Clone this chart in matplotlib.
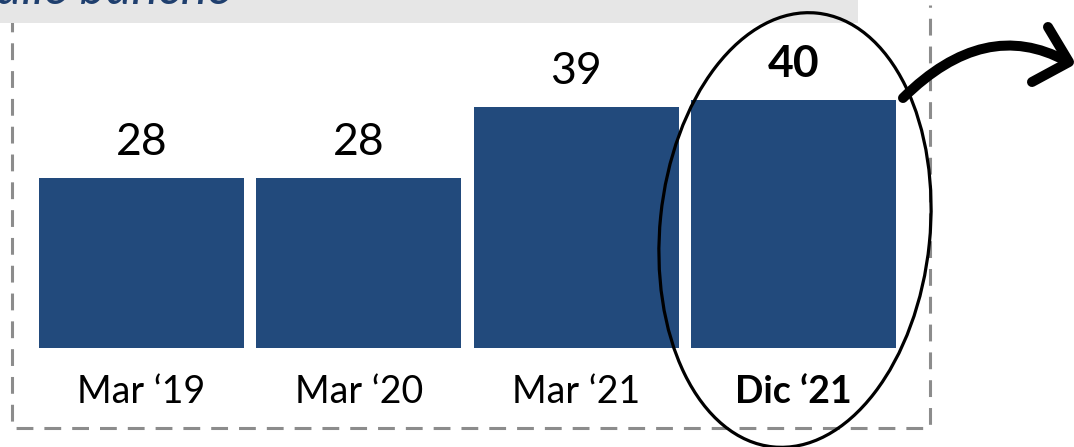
import matplotlib.pyplot as plt
from matplotlib.patches import Ellipse, Rectangle, PathPatch
from matplotlib.path import Path

# data
categories = ["Mar \u201819", "Mar \u201820", "Mar \u201821", "Dic \u201821"]
values = [27.7, 27.7, 39.3, 40.4]
highlight = [False, False, False, True]
header_text = "alle banche"

W, H = 1074, 447
bar_color = "#224A7C"
font = "Lato"

fig = plt.figure(figsize=(W / 100, H / 100), dpi=100)

ax = fig.add_axes([0.0305, 0.2215, 0.8095, 0.6868])
x = list(range(len(values)))
ax.bar(x, values, width=0.943, color=bar_color)
ax.set_xlim(-0.5, 3.5)
ax.set_ylim(0, 50)
ax.axis("off")

for i, v in enumerate(values):
    w = "bold" if highlight[i] else "normal"
    ax.annotate(f"{round(v):d}", (i, v), xytext=(0, 16.5), textcoords="offset points",
                ha="center", va="baseline", fontsize=32, fontweight=w,
                family=font, color="black")
    ax.annotate(categories[i], (i, 0), xytext=(0, -39.6), textcoords="offset points",
                ha="center", va="baseline", fontsize=27, fontweight=w,
                family=font, color="black", annotation_clip=False)

# overlay in pixel coordinates (y measured from the top of the image)
ov = fig.add_axes([0, 0, 1, 1], zorder=5)
ov.set_xlim(0, W)
ov.set_ylim(0, H)
ov.axis("off")


def py(y):
    return H - y


# dashed frame
ov.plot([12, 12, 930, 930], [py(15), py(428), py(428), py(5)], color="#8C8C8C",
        lw=2.2, linestyle=(0, (5.5, 3.6)), zorder=1)

# grey header strip with cut-off title
ov.add_patch(Rectangle((0, py(23)), 858, 23, color="#E6E6E6", lw=0, zorder=2))
ov.text(-4, py(4), header_text, fontsize=36, style="italic", family=font,
        color="#1F3F6E", ha="left", va="baseline", zorder=3)

# ellipse around the last bar
ov.add_patch(Ellipse((795, py(230)), 270, 436, angle=-5.8, fill=False,
                     edgecolor="black", lw=2.3, zorder=4))

# curved arrow
p0, p1, p2 = (903, py(98)), (985, py(17)), (1066, py(61))
shaft = Path([p0, p1, p2], [Path.MOVETO, Path.CURVE3, Path.CURVE3])
ov.add_patch(PathPatch(shaft, fill=False, edgecolor="black", lw=7.2,
                       capstyle="round", zorder=4))
ov.plot([1048, 1069, 1032], [py(27), py(62), py(82)], color="black", lw=7.2,
        solid_capstyle="round", solid_joinstyle="round", zorder=4)

fig.savefig("out.png", dpi=100)
